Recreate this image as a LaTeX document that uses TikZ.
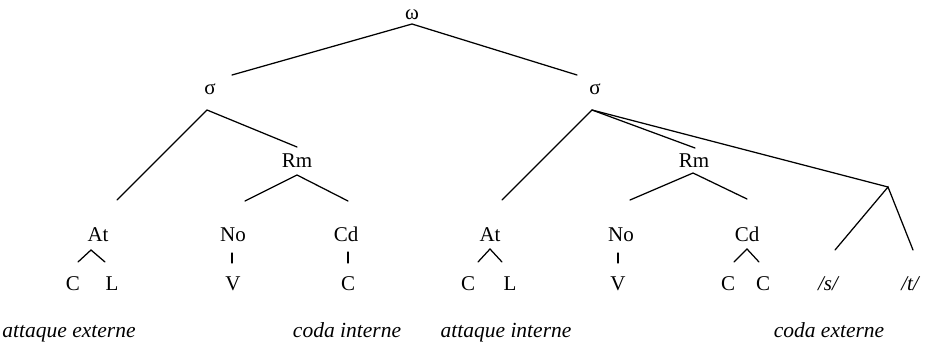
\documentclass[tikz,border=0pt]{standalone}
\usepackage{fontspec}
\setmainfont{Liberation Serif}
\begin{document}
\begin{tikzpicture}[x=1pt,y=-1pt,
  lab/.style={font=\fontsize{21}{25}\selectfont, inner sep=0pt, anchor=base},
  ilab/.style={lab, font=\fontsize{21}{25}\selectfont\itshape},
  capt/.style={font=\fontsize{21.5}{25}\selectfont\itshape, inner sep=0pt, anchor=base},
  br/.style={line width=1.25pt, line cap=round, line join=miter}]
\useasboundingbox (0,0) rectangle (925,342);

% labels (baseline positions)
\node[lab] (om) at (412,20) {ω};
\node[lab] (s1) at (210,95) {σ};
\node[lab] (s2) at (595,95) {σ};
\node[lab] (rm1) at (297,167) {Rm};
\node[lab] (rm2) at (694,167) {Rm};
\node[lab] (at1) at (98,241) {At};
\node[lab] (no1) at (233,241) {No};
\node[lab] (cd1) at (346,241) {Cd};
\node[lab] (at2) at (490,241) {At};
\node[lab] (no2) at (621,241) {No};
\node[lab] (cd2) at (747,241) {Cd};
\node[lab] (c1a) at (73,290) {C};
\node[lab] (l1) at (112,290) {L};
\node[lab] (v1) at (233,290) {V};
\node[lab] (c1b) at (348,290) {C};
\node[lab] (c2a) at (468,290) {C};
\node[lab] (l2) at (510,290) {L};
\node[lab] (v2) at (618,290) {V};
\node[lab] (c2b) at (728,290) {C};
\node[lab] (c2c) at (763,290) {C};
\node[ilab] (ss) at (828,290) {/s/};
\node[ilab] (tt) at (910,290) {/t/};

\node[capt] (ae) at (69,337) {attaque externe};
\node[capt] (ci) at (347,337) {coda interne};
\node[capt] (ai) at (506,337) {attaque interne};
\node[capt] (ce) at (829,337) {coda externe};

% attachment points
\coordinate (omB) at (412,24);
\coordinate (s1T) at (232,75);
\coordinate (s2T) at (577,75);
\coordinate (s1B) at (207,110);
\coordinate (s2B) at (592,110);
\coordinate (at1T) at (117,200);
\coordinate (rm1T) at (297,147);
\coordinate (at2T) at (502,200);
\coordinate (rm2T) at (695,148);
\coordinate (xx) at (888,187);
\coordinate (rm1B) at (297,175);
\coordinate (no1T) at (245,201);
\coordinate (cd1T) at (348,201);
\coordinate (rm2B) at (693,173);
\coordinate (no2T) at (630,200);
\coordinate (cd2T) at (747,199);
\coordinate (ssT) at (835,250);
\coordinate (ttT) at (913,250);

\draw[br] (s1T) -- (omB) -- (s2T);
\draw[br] (at1T) -- (s1B) -- (rm1T);
\draw[br] (at2T) -- (s2B) -- (rm2T);
\draw[br] (s2B) -- (xx);
\draw[br] (no1T) -- (rm1B) -- (cd1T);
\draw[br] (no2T) -- (rm2B) -- (cd2T);
\draw[br] (ssT) -- (xx) -- (ttT);

% small branches
\draw[br] (78,262) -- (91,250) -- (105,262);
\draw[br] (478,262) -- (490,249) -- (502,262);
\draw[br] (734,262) -- (747,249) -- (759,262);
\draw[br] (232,253) -- (232,263);
\draw[br] (348,252) -- (348,263);
\draw[br] (618,253) -- (618,263);
\end{tikzpicture}
\end{document}
